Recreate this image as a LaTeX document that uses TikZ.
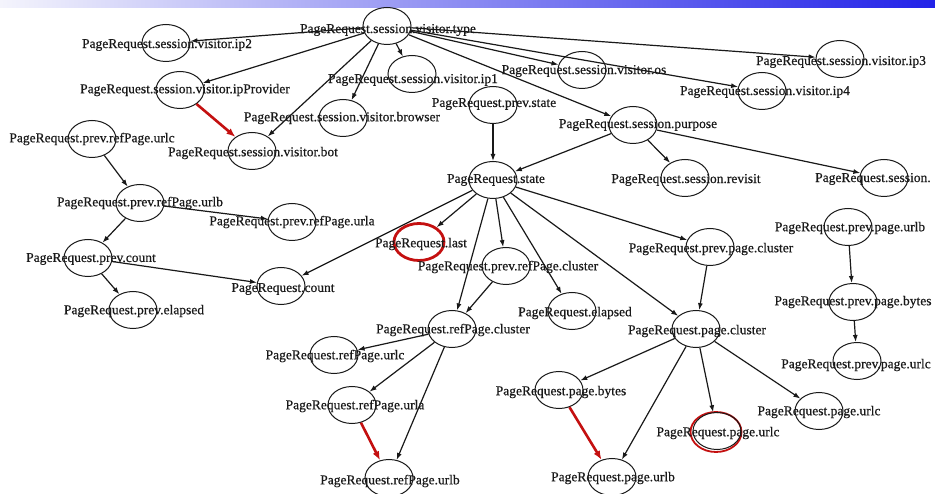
\documentclass[tikz,border=0pt]{standalone}
\usepackage{fontspec}
\setmainfont{Liberation Serif}
\newfontfamily\lblfont{Liberation Serif}[FakeBold=0.5]
\usetikzlibrary{shapes.geometric,arrows.meta}
\definecolor{darkred}{RGB}{196,16,16}
\definecolor{bandblue}{RGB}{34,34,232}
\definecolor{bandlight}{RGB}{244,244,252}
\tikzset{
  ell/.style={ellipse, draw=black!90, line width=1pt, minimum width=48pt,
              minimum height=37pt, inner sep=0pt},
  redell/.style={ell, draw=darkred, line width=2.8pt, minimum width=50pt},
  lbl/.style={font=\lblfont\fontsize{13.5}{14}\selectfont, inner sep=0pt, text=black!90},
  edge/.style={-{Latex[length=7pt,width=5pt]}, line width=1.2pt, draw=black!90},
  redge/.style={-{Latex[length=9pt,width=7pt]}, line width=2.6pt, draw=darkred},
}
\begin{document}
\begin{tikzpicture}[x=1pt,y=-1pt]
\useasboundingbox (0,0) rectangle (935,494);
\fill[white] (0,0) rectangle (935,494);
% title band
\shade[left color=bandlight, right color=bandblue] (0,0) rectangle (935,8);

% ---- nodes (ellipses) ----
\node[ell] (type)      at (387,26)  {};
\node[ell] (ip2)       at (166,43)  {};
\node[ell] (ipprov)    at (180,90)  {};
\node[ell] (bot)       at (252,151) {};
\node[ell] (ip1)       at (412,74)  {};
\node[ell] (browser)   at (343,118) {};
\node[ell] (os)        at (582,70)  {};
\node[ell] (ip3)       at (840,59)  {};
\node[ell] (ip4)       at (762,91)  {};
\node[ell] (pstate)    at (493,105) {};
\node[ell] (purpose)   at (633,125) {};
\node[ell] (state)     at (493,180) {};
\node[ell] (revisit)   at (685,178) {};
\node[ell] (sess)      at (884,178) {};
\node[ell] (prurlc)    at (92,139)  {};
\node[ell] (prurlb)    at (140,203) {};
\node[ell] (prurla)    at (292,222) {};
\node[ell] (pcount)    at (88,258)  {};
\node[ell] (pelapsed)  at (133,310) {};
\node[ell] (count)     at (281,286) {};
\node[redell] (last)   at (419,242) {};
\node[ell] (prcluster) at (506,266) {};
\node[ell] (elapsed)   at (572,311) {};
\node[ell] (ppcluster) at (710,247) {};
\node[ell] (rcluster)  at (452,329) {};
\node[ell] (pcluster)  at (696,329) {};
\node[ell] (ppurlb)    at (848,227) {};
\node[ell] (ppbytes)   at (853,302) {};
\node[ell] (ppurlc)    at (857,361) {};
\node[ell] (rurlc)     at (334,355) {};
\node[ell] (rurla)     at (352,405) {};
\node[ell] (rurlb)     at (389,478) {};
\node[ell] (pbytes)    at (559,390) {};
\node[ell] (purlb)     at (612,477) {};
\node[ell, draw=darkred, line width=1.8pt, minimum width=51pt, minimum height=40pt] (purlcring) at (716,432) {};
\node[ell] (purlc)     at (717,431) {};
\node[ell] (purlc2)    at (819,411) {};

% ---- labels ----
\node[lbl] at (388,30)  {PageRequest.session.visitor.type};
\node[lbl] at (167,45)  {PageRequest.session.visitor.ip2};
\node[lbl] at (185,90)  {PageRequest.session.visitor.ipProvider};
\node[lbl] at (253,153) {PageRequest.session.visitor.bot};
\node[lbl] at (413,80)  {PageRequest.session.visitor.ip1};
\node[lbl] at (342,118) {PageRequest.session.visitor.browser};
\node[lbl] at (584,71)  {PageRequest.session.visitor.os};
\node[lbl] at (841,62)  {PageRequest.session.visitor.ip3};
\node[lbl] at (765,92)  {PageRequest.session.visitor.ip4};
\node[lbl] at (494,104) {PageRequest.prev.state};
\node[lbl] at (638,125) {PageRequest.session.purpose};
\node[lbl] at (496,180) {PageRequest.state};
\node[lbl] at (686,180) {PageRequest.session.revisit};
\node[lbl, anchor=west] at (815,179) {PageRequest.session.};
\node[lbl] at (92,139)  {PageRequest.prev.refPage.urlc};
\node[lbl] at (140,203) {PageRequest.prev.refPage.urlb};
\node[lbl] at (292,222) {PageRequest.prev.refPage.urla};
\node[lbl] at (91,259)  {PageRequest.prev.count};
\node[lbl] at (134,311) {PageRequest.prev.elapsed};
\node[lbl] at (283,289) {PageRequest.count};
\node[lbl] at (421,244) {PageRequest.last};
\node[lbl] at (508,267) {PageRequest.prev.refPage.cluster};
\node[lbl] at (575,313) {PageRequest.elapsed};
\node[lbl] at (711,249) {PageRequest.prev.page.cluster};
\node[lbl] at (453,330) {PageRequest.refPage.cluster};
\node[lbl] at (697,331) {PageRequest.page.cluster};
\node[lbl] at (850,228) {PageRequest.prev.page.urlb};
\node[lbl] at (853,302) {PageRequest.prev.page.bytes};
\node[lbl] at (856,365) {PageRequest.prev.page.urlc};
\node[lbl] at (335,356) {PageRequest.refPage.urlc};
\node[lbl] at (355,406) {PageRequest.refPage.urla};
\node[lbl] at (390,481) {PageRequest.refPage.urlb};
\node[lbl] at (561,392) {PageRequest.page.bytes};
\node[lbl] at (613,478) {PageRequest.page.urlb};
\node[lbl] at (718,433) {PageRequest.page.urlc};
\node[lbl] at (819,412) {PageRequest.page.urlc};

% ---- connectors ----
\foreach \t in {ip2,ipprov,bot,browser,ip1,os,ip3,ip4,purpose}
  \draw[edge] (type) -- (\t);
\draw[edge] (pstate) -- (state);
\draw[edge] (purpose) -- (state);
\draw[edge] (purpose) -- (revisit);
\draw[edge] (purpose) -- (sess);
\draw[edge] (prurlc) -- (prurlb);
\draw[edge] (prurlb) -- (prurla);
\draw[edge] (prurlb) -- (pcount);
\draw[edge] (pcount) -- (count);
\draw[edge] (pcount) -- (pelapsed);
\foreach \t in {count,last,rcluster,prcluster,elapsed,pcluster,ppcluster}
  \draw[edge] (state) -- (\t);
\draw[edge] (prcluster) -- (rcluster);
\draw[edge] (ppcluster) -- (pcluster);
\draw[edge] (rcluster) -- (rurlc);
\draw[edge] (rcluster) -- (rurla);
\draw[edge] (rcluster) -- (rurlb);
\draw[edge] (pcluster) -- (pbytes);
\draw[edge] (pcluster) -- (purlb);
\draw[edge] (pcluster) -- (purlc);
\draw[edge] (pcluster) -- (purlc2);
\draw[edge] (ppurlb) -- (ppbytes);
\draw[edge] (ppbytes) -- (ppurlc);
\draw[redge] (ipprov) -- (bot);
\draw[redge] (rurla) -- (rurlb);
\draw[redge] (pbytes) -- (purlb);
\end{tikzpicture}
\end{document}
